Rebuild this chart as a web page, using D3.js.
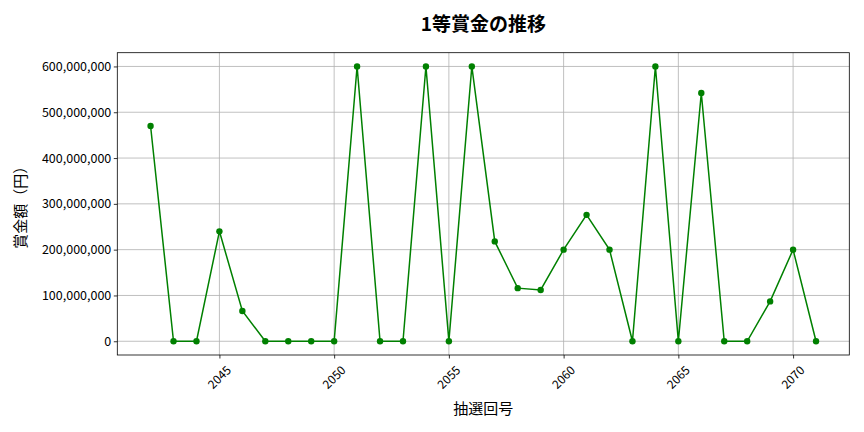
<!DOCTYPE html>
<html><head><meta charset="utf-8">
<script src="https://cdn.jsdelivr.net/npm/d3@7"></script>
<style>
body{margin:0;background:#fff;}
text{font-family:"Noto Sans CJK JP","Noto Sans",sans-serif;}
</style></head>
<body><svg id="c" width="864" height="432"></svg>
<script>
const draws = [2042,2043,2044,2045,2046,2047,2048,2049,2050,2051,2052,2053,2054,2055,2056,2057,2058,2059,2060,2061,2062,2063,2064,2065,2066,2067,2068,2069,2070,2071];
const prizes = [470000000,0,0,240000000,66000000,0,0,0,0,600000000,0,0,600000000,0,600000000,218000000,116000000,112000000,200000000,276000000,200000000,0,600000000,0,542000000,0,0,87000000,200000000,0];
const xTicks = [2045,2050,2055,2060,2065,2070];
const yTicks = [0,100000000,200000000,300000000,400000000,500000000,600000000];
const titleText = "1等賞金の推移";
const xLabel = "抽選回号";
const yLabel = "賞金額（円）";

const svg = d3.select("#c");
const L=117.3,R=849.3,T=52.7,B=355;
const x = d3.scaleLinear().domain([2040.55,2072.45]).range([L,R]);
const y = d3.scaleLinear().domain([-30000000,630000000]).range([B,T]);
const data = draws.map((d,i)=>({d, v:prizes[i]}));

// grid
svg.append("g").selectAll("line").data(xTicks).join("line")
  .attr("x1",d=>x(d)).attr("x2",d=>x(d)).attr("y1",T).attr("y2",B)
  .attr("stroke","#b0b0b0").attr("stroke-width",0.8);
svg.append("g").selectAll("line").data(yTicks).join("line")
  .attr("x1",L).attr("x2",R).attr("y1",d=>y(d)).attr("y2",d=>y(d))
  .attr("stroke","#b0b0b0").attr("stroke-width",0.8);

// axes
const xa = svg.append("g").attr("transform",`translate(0,${B})`)
  .call(d3.axisBottom(x).tickValues(xTicks).tickFormat(d3.format("d")).tickSize(3.5).tickSizeOuter(0));
xa.select(".domain").remove();
xa.selectAll("text").attr("font-size",12).attr("fill","#000")
  .attr("text-anchor","end").attr("dy",null).attr("y",0)
  .attr("transform","translate(4,8) rotate(-45)").attr("dominant-baseline","hanging");
const ya = svg.append("g").attr("transform",`translate(${L},0)`)
  .call(d3.axisLeft(y).tickValues(yTicks).tickFormat(d3.format(",")).tickSize(3.5).tickSizeOuter(0));
ya.select(".domain").remove();
ya.selectAll("text").attr("font-size",12.5).attr("fill","#000").attr("x",-6);
svg.selectAll(".tick line").attr("stroke","#000").attr("stroke-width",0.8);

svg.append("rect").attr("x",L).attr("y",T).attr("width",R-L).attr("height",B-T)
  .attr("fill","none").attr("stroke","#000").attr("stroke-width",0.8);

// line
svg.append("path").datum(data)
  .attr("d",d3.line().x(d=>x(d.d)).y(d=>y(d.v)))
  .attr("fill","none").attr("stroke","#008000").attr("stroke-width",1.5);
svg.append("g").selectAll("circle").data(data).join("circle")
  .attr("cx",d=>x(d.d)).attr("cy",d=>y(d.v)).attr("r",3.2).attr("fill","#008000");

// labels
svg.append("text").attr("x",(L+R)/2).attr("y",31).attr("text-anchor","middle")
  .attr("font-size",19).attr("font-weight","bold").text(titleText);
svg.append("text").attr("x",(L+R)/2).attr("y",414).attr("text-anchor","middle")
  .attr("font-size",15).text(xLabel);
svg.append("text").attr("transform",`translate(26,${(T+B)/2}) rotate(-90)`).attr("text-anchor","middle")
  .attr("font-size",15).text(yLabel);
</script></body></html>
